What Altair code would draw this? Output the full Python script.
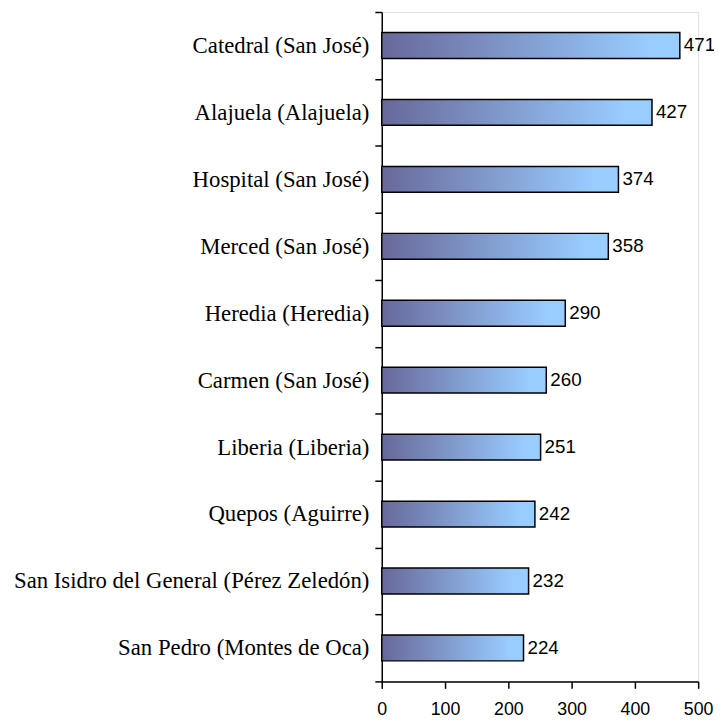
import altair as alt
import pandas as pd

categories = [
    "Catedral (San José)",
    "Alajuela (Alajuela)",
    "Hospital (San José)",
    "Merced (San José)",
    "Heredia (Heredia)",
    "Carmen (San José)",
    "Liberia (Liberia)",
    "Quepos (Aguirre)",
    "San Isidro del General (Pérez Zeledón)",
    "San Pedro (Montes de Oca)",
]
values = [471, 427, 374, 358, 290, 260, 251, 242, 232, 224]
x_ticks = [0, 100, 200, 300, 400, 500]

df = pd.DataFrame({"cat": categories, "val": values})

grad = alt.LinearGradient(
    gradient="linear",
    stops=[
        alt.GradientStop(offset=0, color="#68689a"),
        alt.GradientStop(offset=0.9, color="#99ccff"),
        alt.GradientStop(offset=1, color="#99ccff"),
    ],
    x1=0, x2=1, y1=0, y2=0,
)

y_enc = alt.Y(
    "cat:N",
    sort=categories,
    title=None,
    scale=alt.Scale(paddingInner=0, paddingOuter=0),
    axis=alt.Axis(
        domainColor="black", domainWidth=1.5,
        tickColor="black", tickWidth=1.5, tickSize=7, tickBand="extent",
        labelFont="Liberation Serif", labelFontSize=23, labelColor="black",
        labelPadding=6, labelLimit=400,
    ),
)
x_enc = alt.X(
    "val:Q",
    title=None,
    scale=alt.Scale(domain=[0, 500], nice=False),
    axis=alt.Axis(
        values=x_ticks, grid=False,
        domainColor="black", domainWidth=1.5,
        tickColor="black", tickWidth=1.5, tickSize=7,
        labelFont="Liberation Sans", labelFontSize=18, labelColor="black",
        labelPadding=12, labelFlush=False,
    ),
)

bars = alt.Chart(df).mark_bar(
    color=grad, stroke="black", strokeWidth=1.5, height={"band": 0.386}
).encode(x=x_enc, y=y_enc)
texts = alt.Chart(df).mark_text(
    align="left", baseline="middle", dx=4,
    font="Liberation Sans", fontSize=19, color="black",
).encode(x="val:Q", y=alt.Y("cat:N", sort=categories), text="val:Q")

chart = alt.layer(bars, texts).properties(
    width=320, height=677,
    autosize=alt.AutoSizeParams(type="none"),
    padding={"left": 378, "top": 0, "right": 16, "bottom": 38},
).configure_view(stroke=None).configure(background="white")

chart.save("out.html", embed_options={"renderer": "svg", "actions": False})
